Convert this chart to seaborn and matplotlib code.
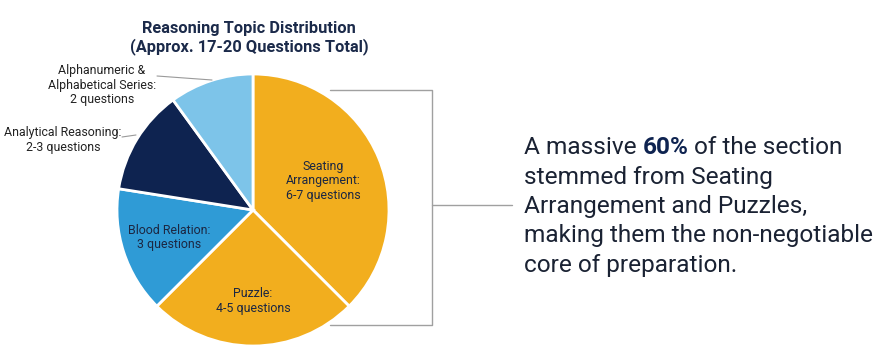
import numpy as np
import matplotlib
matplotlib.use("Agg")
from matplotlib import pyplot as plt
import seaborn as sns

# slice data (share of the ring, clockwise from top)
topics = ["Seating Arrangement", "Puzzle", "Blood Relation",
          "Analytical Reasoning", "Alphanumeric & Alphabetical Series"]
shares = [37.5, 25.0, 15.0, 12.5, 10.0]
slice_labels = ["Seating\nArrangement:\n6-7 questions", "Puzzle:\n4-5 questions",
                "Blood Relation:\n3 questions", "Analytical Reasoning:\n2-3 questions",
                "Alphanumeric &\nAlphabetical Series:\n2 questions"]
inside = [True, True, True, False, False]
label_dist = [0.56, 0.67, 0.65, 0, 0]
colors = ["#F2AE1E", "#F2AE1E", "#2F9BD6", "#0E2350", "#7DC4E9"]

title = "Reasoning Topic Distribution\n(Approx. 17-20 Questions Total)"
note_lines = [("A massive ", "60%", " of the section"),
              ("stemmed from Seating",),
              ("Arrangement and Puzzles,",),
              ("making them the non-negotiable",),
              ("core of preparation.",)]

sns.set_theme(style="white")
plt.rcParams['font.family'] = ['Roboto', 'DejaVu Sans']

W, H = 881, 358
fig = plt.figure(figsize=(W / 100, H / 100), dpi=100)
ax = fig.add_axes([0, 0, 1, 1])

cx, cy, r = 253, H - 210, 136
wedges, _ = ax.pie(shares, colors=colors, startangle=90, counterclock=False,
                   center=(cx, cy), radius=r, frame=True,
                   wedgeprops=dict(edgecolor="white", linewidth=2))
ax.set_xlim(0, W)
ax.set_ylim(0, H)
ax.set_aspect("equal")
ax.axis("off")

text_dark = "#1c2742"
for w, lab, ins, d in zip(wedges, slice_labels, inside, label_dist):
    if not ins:
        continue
    mid = np.deg2rad((w.theta1 + w.theta2) / 2)
    ax.text(cx + d * r * np.cos(mid), cy + d * r * np.sin(mid), lab,
            ha="center", va="center", fontsize=8.9, color=text_dark, linespacing=1.13)

# outside labels with thin leader lines
ax.text(102, H - 85, slice_labels[4], ha="center", va="center", fontsize=8.9,
        color="#222222", linespacing=1.16)
ax.plot([157, 212], [H - 76, H - 80], color="#9a9a9a", lw=0.8)
ax.text(63, H - 140, slice_labels[3], ha="center", va="center", fontsize=8.9,
        color="#222222", linespacing=1.16)
ax.plot([122, 136], [H - 137, H - 135], color="#9a9a9a", lw=0.8)

ax.text(249, H - 38, title, ha="center", va="center", fontsize=11.8,
        fontweight="bold", color="#1b2a4a", linespacing=1.15)

# bracket around the two orange slices
gray = "#a0a0a0"
ax.plot([330, 432, 432, 330], [H - 90, H - 90, H - 325, H - 325], color=gray, lw=1)
ax.plot([432, 512], [H - 205, H - 205], color=gray, lw=1)

# right hand note, with bold 60%
x0, y0, step = 524, H - 148, 29.3
note_color = "#1a2233"
for i, parts in enumerate(note_lines):
    t = ax.text(x0, y0 - i * step, parts[0], ha="left", va="center",
                fontsize=17.6, color=note_color)
    for j, p in enumerate(parts[1:]):
        t = ax.annotate(p, xycoords=t, xy=(1, 0), va="bottom", ha="left",
                        fontsize=17.6, color="#0E2350" if j == 0 else note_color,
                        fontweight="bold" if j == 0 else "normal")

fig.savefig("out.png", dpi=100)
